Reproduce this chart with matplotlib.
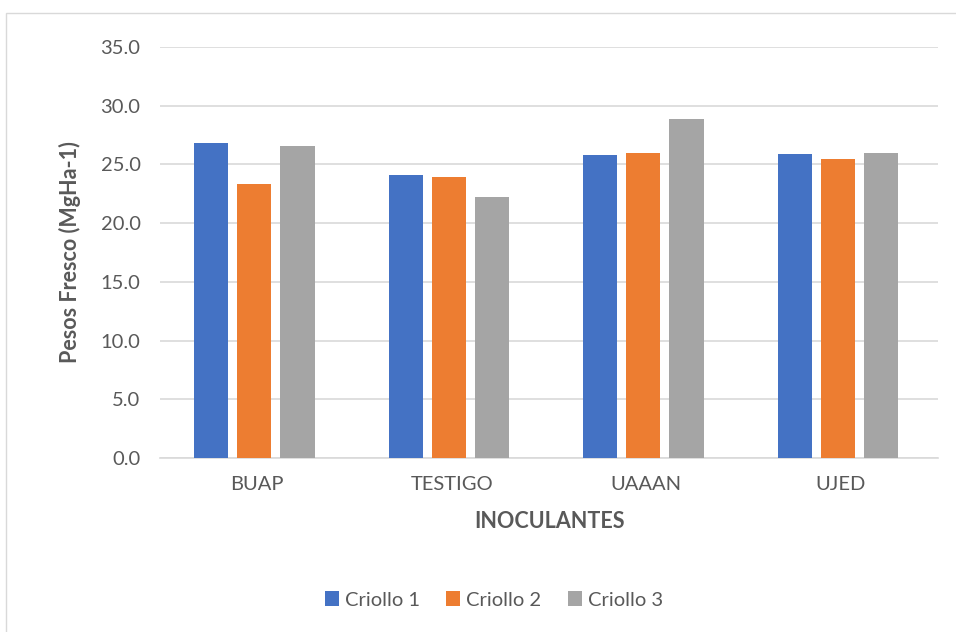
import numpy as np
import matplotlib.pyplot as plt
from matplotlib.patches import Rectangle

categories = ['BUAP', 'TESTIGO', 'UAAAN', 'UJED']
criollo_1 = [26.8, 24.1, 25.8, 25.9]
criollo_2 = [23.3, 23.9, 26.0, 25.5]
criollo_3 = [26.6, 22.2, 28.9, 26.0]
series_names = ['Criollo 1', 'Criollo 2', 'Criollo 3']
colors = ['#4472C4', '#ED7D31', '#A5A5A5']
yticks = [0, 5, 10, 15, 20, 25, 30, 35]

plt.rcParams['font.family'] = ['Lato', 'DejaVu Sans']
text_color = '#595959'

fig = plt.figure(figsize=(9.56, 6.32), dpi=100)
# light chart border
fig.patches.append(Rectangle((6 / 956, -0.01), 1.0, 1 - 13 / 632 + 0.01,
                             transform=fig.transFigure, fill=False,
                             edgecolor='#D9D9D9', linewidth=1))

ax = fig.add_axes([160 / 956, 1 - 458 / 632, 778 / 956, 411 / 632])

x = np.arange(len(categories))
width = 0.175
step = 0.222
for i, (vals, name) in enumerate(zip([criollo_1, criollo_2, criollo_3], series_names)):
    ax.bar(x + (i - 1) * step - 0.015, vals, width, color=colors[i], label=name, zorder=3)

ax.set_xlim(-0.5, len(categories) - 0.5)
ax.set_ylim(0, 35)
ax.set_yticks(yticks)
ax.set_yticklabels(['%.1f' % v for v in yticks], fontsize=14.5, color=text_color)
ax.set_xticks(x)
ax.set_xticklabels(categories, fontsize=14.5, color=text_color)
ax.tick_params(axis='both', length=0)
ax.tick_params(axis='y', pad=14)
ax.tick_params(axis='x', pad=13)

ax.grid(axis='y', color='#D9D9D9', linewidth=1.2, zorder=0)
for s in ['top', 'right', 'left']:
    ax.spines[s].set_visible(False)
ax.spines['bottom'].set_color('#D9D9D9')
ax.spines['bottom'].set_linewidth(1.2)

ax.set_xlabel('INOCULANTES', fontsize=15.5, fontweight='bold', color=text_color, labelpad=13)
ax.set_ylabel('Pesos Fresco (MgHa-1)', fontsize=15.5, fontweight='bold', color=text_color, labelpad=14)

leg = fig.legend(loc='center', bbox_to_anchor=(494 / 956, 1 - 600 / 632), ncol=3,
                 frameon=False, fontsize=14.5, handlelength=0.7, handleheight=0.7,
                 handletextpad=0.3, columnspacing=1.3)
for t in leg.get_texts():
    t.set_color(text_color)

fig.savefig('out.png', dpi=100)
